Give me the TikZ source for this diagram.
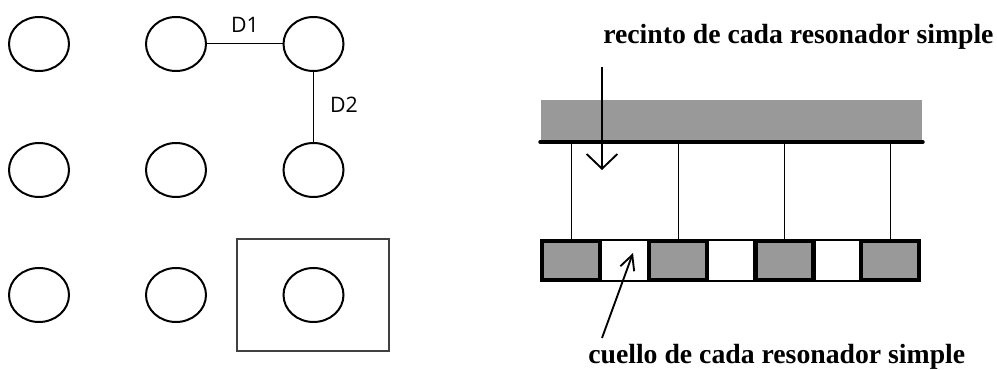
\documentclass[tikz,border=0pt]{standalone}
\usepackage{fontspec}
\setmainfont{Liberation Serif}
\newfontfamily\labelfont{Open Sans}
\usetikzlibrary{shapes.geometric,arrows.meta}
\definecolor{fillgray}{HTML}{999999}
\tikzset{
  hole/.style={ellipse, draw, line width=1.5pt, minimum width=45pt, minimum height=40.5pt, inner sep=0pt, outer sep=0pt},
  thin/.style={line width=0.75pt},
  dlabel/.style={font=\labelfont\fontsize{16}{19}\selectfont, inner sep=0pt},
  caption/.style={font=\bfseries\fontsize{20.8}{24}\selectfont, inner sep=0pt},
  cavity/.style={draw, line width=3.2pt, fill=fillgray, minimum width=43.5pt, minimum height=29.25pt, inner sep=0pt, outer sep=0pt},
  neck/.style={draw, line width=1.5pt, fill=white, minimum width=36.75pt, minimum height=30.75pt, inner sep=0pt, outer sep=0pt},
  pointer/.style={line width=1.4pt, -{Straight Barb[length=11pt, width=23pt, line width=1.4pt]}},
  pointersmall/.style={line width=1.4pt, -{Straight Barb[length=11pt, width=11pt, line width=1.4pt]}}
}
\begin{document}
\begin{tikzpicture}[x=0.75pt, y=-0.75pt]
\useasboundingbox (0,0) rectangle (997,370);

% grid of holes
\foreach \c/\x in {1/39, 2/176, 3/313.5}{
  \foreach \r/\y in {1/44, 2/170, 3/295}{
    \node[hole] (e\r\c) at (\x,\y) {};
  }
}
% spacings
\draw[thin] (e12.east) -- (e13.west);
\draw[thin] (e13.south) -- (e23.north);
\node[dlabel] (d1) at (245,24.5) {D1};
\node[dlabel] (d2) at (344,105) {D2};
% unit cell
\node[draw=black!75, line width=0.8pt, minimum width=114pt, minimum height=84pt, inner sep=0pt] (cell) at (313,295) {};

% enclosure bar
\fill[fillgray] (541,100) rectangle (922,142);
\coordinate (barL) at (540,142);
\coordinate (barR) at (923,142);

% necks
\node[neck] (n1) at (624.5,260.5) {};
\node[neck] (n2) at (731.5,260.5) {};
\node[neck] (n3) at (837.5,260.5) {};
% cavities
\node[cavity] (c1) at (571,260.5) {};
\node[cavity] (c2) at (678,260.5) {};
\node[cavity] (c3) at (784.5,260.5) {};
\node[cavity] (c4) at (890,260.5) {};

% walls between cavities
\foreach \i in {1,2,3,4}{
  \draw[thin] (c\i.north) -- (c\i.north |- barL);
}
\draw[line width=2.6pt, line cap=round] (barL) -- (barR);

% captions and pointers
\node[caption, anchor=base west] (rec) at (603,44) {recinto de cada resonador simple};
\node[caption, anchor=base west] (cue) at (588,364) {cuello de cada resonador simple};
\coordinate (recfrom) at (602,67);
\coordinate (recto) at (602,170);
\draw[pointer] (recfrom) -- (recto);
\coordinate (cuefrom) at (602,338);
\coordinate (cueto) at (633,253);
\draw[pointersmall] (cuefrom) -- (cueto);
\end{tikzpicture}
\end{document}
